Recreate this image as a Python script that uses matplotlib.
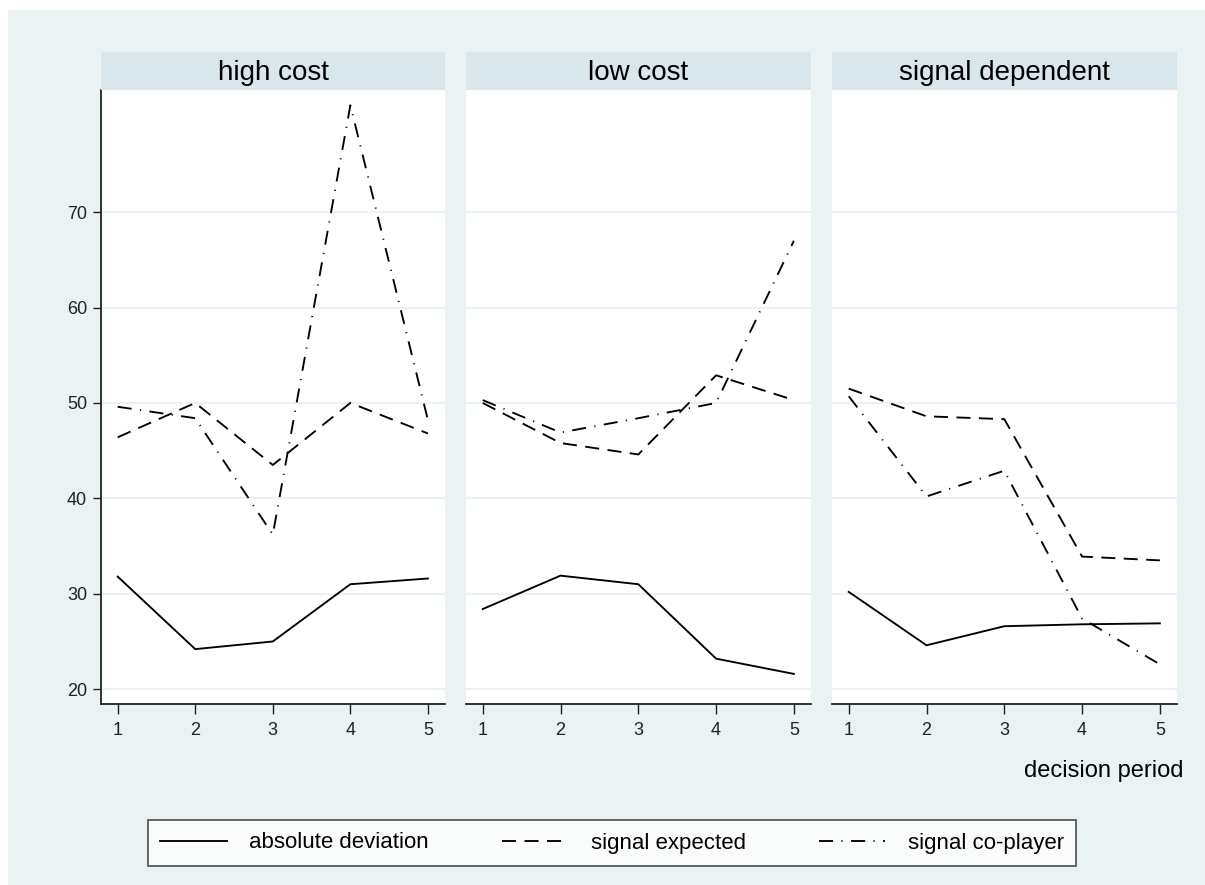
import matplotlib
matplotlib.use("Agg")
import matplotlib.pyplot as plt
from matplotlib.patches import Rectangle

# ---- data ----
periods = [1, 2, 3, 4, 5]
panels = ["high cost", "low cost", "signal dependent"]
series_names = ["absolute deviation", "signal expected", "signal co-player"]

abs_dev = {
    "high cost": [31.8, 24.2, 25.0, 31.0, 31.6],
    "low cost": [28.4, 31.9, 31.0, 23.2, 21.6],
    "signal dependent": [30.2, 24.6, 26.6, 26.8, 26.9],
}
sig_expected = {
    "high cost": [46.4, 50.0, 43.5, 50.0, 46.8],
    "low cost": [50.0, 45.8, 44.6, 52.9, 50.3],
    "signal dependent": [51.5, 48.6, 48.3, 33.9, 33.5],
}
sig_coplayer = {
    "high cost": [49.6, 48.4, 36.2, 81.2, 48.2],
    "low cost": [50.3, 46.9, 48.4, 50.0, 67.0],
    "signal dependent": [50.7, 40.2, 42.9, 27.4, 22.6],
}
yticks = [20, 30, 40, 50, 60, 70]
xlabel = "decision period"

# ---- layout ----
W, H = 1205, 885
BG = "#eaf2f3"
STRIP = "#d9e6ec"
GRID = "#eaf2f3"

plt.rcParams["font.family"] = ["Liberation Sans", "DejaVu Sans"]
fig = plt.figure(figsize=(W / 100, H / 100), dpi=100)
fig.patch.set_facecolor("white")

def fx(x):
    return x / W

def fy(y):
    return 1 - y / H

fig.patches.append(Rectangle((fx(8), 0), 1 - fx(8), fy(10), transform=fig.transFigure,
                             facecolor=BG, edgecolor="none", zorder=-10))

lefts = [101, 466, 832]
rights = [445, 811, 1177]
top, bottom = 90, 703.5
strip_top = 52

styles = [
    dict(linestyle="-"),
    dict(linestyle=(0, (7.5, 4.5))),
    dict(linestyle=(0, (7.5, 4.5, 0.6, 4.5))),
]
data_list = [abs_dev, sig_expected, sig_coplayer]

for i, name in enumerate(panels):
    L, R = lefts[i], rights[i]
    ax = fig.add_axes([fx(L), fy(bottom), fx(R) - fx(L), fy(top) - fy(bottom)])
    ax.set_facecolor("white")
    for d, st, lab in zip(data_list, styles, series_names):
        ax.plot(periods, d[name], color="black", lw=1.35, label=lab, **st)
    ax.set_xlim(0.785, 5.22)
    ax.set_ylim(18.5, 82.8)
    ax.set_yticks(yticks)
    ax.set_xticks(periods)
    ax.yaxis.grid(True, color=GRID, lw=1.6)
    ax.set_axisbelow(True)
    for s in ["top", "right"]:
        ax.spines[s].set_visible(False)
    ax.spines["bottom"].set_linewidth(1.3)
    ax.spines["bottom"].set_color("#222222")
    ax.tick_params(axis="x", length=7, width=1, pad=6, labelsize=13, colors="#222222")
    if i == 0:
        ax.spines["left"].set_linewidth(1.3)
        ax.spines["left"].set_color("#222222")
        ax.tick_params(axis="y", length=6, width=1, pad=4, labelsize=13, colors="#222222")
    else:
        ax.spines["left"].set_visible(False)
        ax.tick_params(axis="y", length=0, labelleft=False)
    # strip header
    sax = fig.add_axes([fx(L), fy(top), fx(R) - fx(L), fy(strip_top) - fy(top)])
    sax.set_facecolor(STRIP)
    sax.set_xticks([])
    sax.set_yticks([])
    for s in sax.spines.values():
        s.set_visible(False)
    sax.text(0.5, 0.45, name, ha="center", va="center", fontsize=20, transform=sax.transAxes)
    if i == 0:
        handles, labels = ax.get_legend_handles_labels()

fig.text(fx(1183), fy(771), xlabel, ha="right", va="center", fontsize=17)

leg = fig.legend(handles, labels, loc="center", ncol=3, mode="expand",
                 bbox_to_anchor=(fx(148), fy(868), fx(1076) - fx(148), fy(818) - fy(868)),
                 fontsize=16, frameon=True, fancybox=False, handlelength=3.0,
                 handletextpad=1.0, borderaxespad=0, borderpad=0.55)
leg.get_frame().set_edgecolor("#222222")
leg.get_frame().set_linewidth(1.2)
leg.get_frame().set_facecolor("white")

fig.savefig("out.png", dpi=100, facecolor=fig.get_facecolor())
